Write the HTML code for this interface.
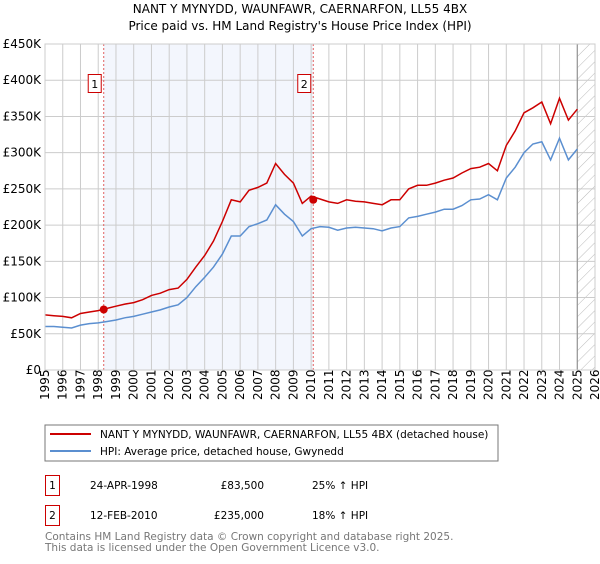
<!DOCTYPE html>
<html><head><meta charset="utf-8"><style>
body{margin:0;background:#fff;font-family:"DejaVu Sans","Liberation Sans",sans-serif}
svg text{font-family:"DejaVu Sans","Liberation Sans",sans-serif}
</style></head><body>
<svg id="c" width="600" height="560" xmlns="http://www.w3.org/2000/svg">
<defs><pattern id="h" width="8" height="8" patternUnits="userSpaceOnUse" patternTransform="rotate(45)"><line x1="0" y1="0" x2="0" y2="8" stroke="#bbb" stroke-width="1"/></pattern></defs>
<text x="300" y="13" text-anchor="middle" font-size="12">NANT Y MYNYDD, WAUNFAWR, CAERNARFON, LL55 4BX</text>
<text x="300" y="30" text-anchor="middle" font-size="12">Price paid vs. HM Land Registry's House Price Index (HPI)</text>
<g id="plot"></g>
<rect x="45" y="425" width="453" height="36" fill="#fff" stroke="#777"/>
<line x1="50" y1="434" x2="91" y2="434" stroke="#cc0000" stroke-width="2"/>
<text x="100" y="438" font-size="10.5">NANT Y MYNYDD, WAUNFAWR, CAERNARFON, LL55 4BX (detached house)</text>
<line x1="50" y1="451" x2="91" y2="451" stroke="#5b8fd0" stroke-width="2"/>
<text x="100" y="455" font-size="10.5">HPI: Average price, detached house, Gwynedd</text>
<g>
<rect x="45.5" y="475.5" width="14" height="20" fill="none" stroke="#cc0000"/>
<text x="52.5" y="489" text-anchor="middle" font-size="10.5">1</text>
<text x="90" y="489" font-size="10.5">24-APR-1998</text>
<text x="264" y="489" text-anchor="end" font-size="10.5">£83,500</text>
<text x="312" y="489" font-size="10.5">25% ↑ HPI</text></g>
<g>
<rect x="45.5" y="505.5" width="14" height="20" fill="none" stroke="#cc0000"/>
<text x="52.5" y="519" text-anchor="middle" font-size="10.5">2</text>
<text x="90" y="519" font-size="10.5">12-FEB-2010</text>
<text x="264" y="519" text-anchor="end" font-size="10.5">£235,000</text>
<text x="312" y="519" font-size="10.5">18% ↑ HPI</text></g>
<text x="45" y="540" font-size="10.5" fill="#777">Contains HM Land Registry data © Crown copyright and database right 2025.</text>
<text x="45" y="551" font-size="10.5" fill="#777">This data is licensed under the Open Government Licence v3.0.</text>
</svg>
<script>
const years=[1995,1995.5,1996,1996.5,1997,1997.5,1998,1998.5,1999,1999.5,2000,2000.5,2001,2001.5,2002,2002.5,2003,2003.5,2004,2004.5,2005,2005.5,2006,2006.5,2007,2007.5,2008,2008.5,2009,2009.5,2010,2010.5,2011,2011.5,2012,2012.5,2013,2013.5,2014,2014.5,2015,2015.5,2016,2016.5,2017,2017.5,2018,2018.5,2019,2019.5,2020,2020.5,2021,2021.5,2022,2022.5,2023,2023.5,2024,2024.5,2025];
const hpi=[60,60,59,58,62,64,65,67,69,72,74,77,80,83,87,90,100,115,128,142,160,185,185,198,202,207,228,215,205,185,195,198,197,193,196,197,196,195,192,196,198,210,212,215,218,222,222,227,235,236,242,235,265,280,300,312,315,290,320,290,305];
const price=[76,75,74,72,78,80,82,85,88,91,93,97,103,106,111,113,125,142,158,178,205,235,232,248,252,258,285,270,258,230,240,236,232,230,235,233,232,230,228,235,235,250,255,255,258,262,265,272,278,280,285,275,310,330,355,362,370,340,375,345,360];
const yTicks=[0,50,100,150,200,250,300,350,400,450];
const yLabels=["£0","£50K","£100K","£150K","£200K","£250K","£300K","£350K","£400K","£450K"];
const xTicks=[1995,1996,1997,1998,1999,2000,2001,2002,2003,2004,2005,2006,2007,2008,2009,2010,2011,2012,2013,2014,2015,2016,2017,2018,2019,2020,2021,2022,2023,2024,2025,2026];
const saleYears=[1998.31,2010.12];
const saleValues=[83.5,235];
const saleLabels=["1","2"];
const X0=45,X1=595,Y0=370,Y1=44;
const xs=y=>X0+(y-1995)/31*(X1-X0);
const ys=v=>Y0-v/450*(Y0-Y1);
const NS="http://www.w3.org/2000/svg";
const g=document.getElementById('plot');
function mk(t,a){const e=document.createElementNS(NS,t);for(const k in a)e.setAttribute(k,a[k]);g.appendChild(e);return e;}
let e;
e=mk('rect',{x:xs(saleYears[0]),y:Y1,width:xs(saleYears[1])-xs(saleYears[0]),height:Y0-Y1,fill:'#f3f6fd'});


e=mk('rect',{x:xs(2025),y:Y1,width:X1-xs(2025),height:Y0-Y1,fill:'url(#h)'});


yTicks.forEach((v,i)=>{
 e=mk('line',{x1:X0,x2:X1,y1:ys(v),y2:ys(v),stroke:'#ccc'});
 
 
 e=mk('text',{x:X0-4,y:ys(v)+4,'text-anchor':'end','font-size':12});e.textContent=yLabels[i];
 
 
});
xTicks.forEach(t=>{
 e=mk('line',{x1:xs(t),x2:xs(t),y1:Y1,y2:Y0,stroke:'#ccc'});
 
 
 e=mk('text',{x:0,y:0,'font-size':12,transform:`translate(${xs(t)+4},${Y0+30}) rotate(-90)`});e.textContent=t;
 
 
});
e=mk('line',{x1:xs(2025),x2:xs(2025),y1:Y1,y2:Y0,stroke:'#888'});


saleYears.forEach((s,i)=>{
 e=mk('line',{x1:xs(s),x2:xs(s),y1:Y1,y2:Y0,stroke:'#e06060','stroke-dasharray':'2,2'});
 
 
});
const pts=a=>a.map((v,i)=>xs(years[i]).toFixed(1)+','+ys(v).toFixed(1)).join(' ');
e=mk('polyline',{points:pts(hpi),fill:'none',stroke:'#5b8fd0','stroke-width':1.5});


e=mk('polyline',{points:pts(price),fill:'none',stroke:'#cc0000','stroke-width':1.5});


saleYears.forEach((s,i)=>{
 e=mk('circle',{cx:xs(s),cy:ys(saleValues[i]),r:4,fill:'#cc0000'});
 
 
 e=mk('rect',{x:xs(s)-15.5,y:74.5,width:13,height:18,fill:'#fff',stroke:'#cc0000'});
 
 
 e=mk('text',{x:xs(s)-9,y:88,'text-anchor':'middle','font-size':11});e.textContent=saleLabels[i];
 
 
});
e=mk('rect',{x:X0,y:Y1,width:X1-X0,height:Y0-Y1,fill:'none',stroke:'#ccc'});


</script>
</body></html>
